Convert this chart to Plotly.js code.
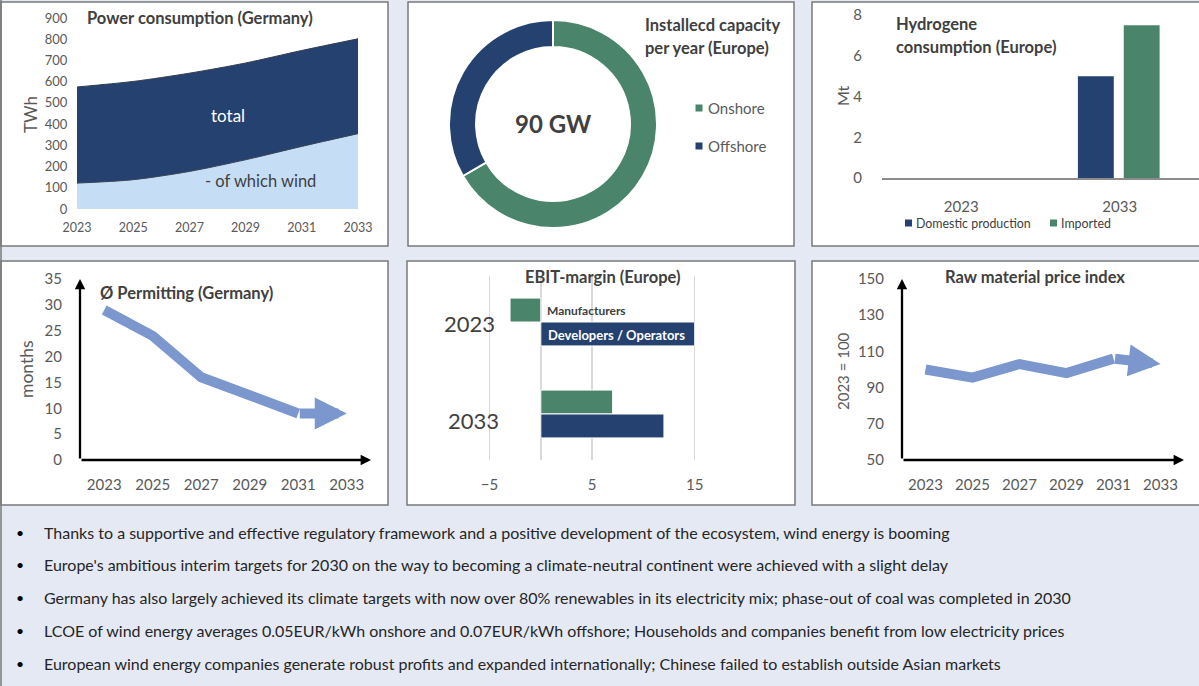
<!DOCTYPE html>
<html><head><meta charset="utf-8">
<script src="https://cdn.plot.ly/plotly-3.0.1.min.js"></script>
<style>html,body{margin:0;padding:0;background:#e4e9f4;}#chart{width:1199px;height:686px;}</style>
</head><body><div id="chart"></div>
<script>
const W = 1199, H = 686;
const px = x => x / W, py = y => 1 - y / H;

// ---------- DATA ----------
const powerYears = [2023, 2025, 2027, 2029, 2031, 2033];
const powerTotal = [575, 601, 640, 688, 747, 802];
const powerWind = [122, 138, 177, 232, 295, 355];

const capLabels = ['Onshore', 'Offshore'];
const capValues = [60, 30];
const capTotalLabel = '90 GW';

const h2Years = ['2023', '2033'];
const h2Domestic = [0, 5];
const h2Imported = [0, 7.5];
const h2Series = ['Domestic production', 'Imported'];

const permitYears = [2023, 2025, 2027, 2029, 2031, 2033];
const permitMonths = [29, 24, 16, 12.3, 9, 9];

const ebitYears = ['2023', '2033'];
const ebitSeries = ['Manufacturers', 'Developers / Operators'];
const ebitManufacturers = [-3, 7];
const ebitDevelopers = [15, 12];

const rawYears = [2023, 2025, 2027, 2029, 2031, 2033];
const rawIndex = [100, 95.5, 103, 98, 106, 103];
const rawTicks = [50, 70, 90, 110, 130, 150];

const bullets = [
  'Thanks to a supportive and effective regulatory framework and a positive development of the ecosystem, wind energy is booming',
  "Europe's ambitious interim targets for 2030 on the way to becoming a climate-neutral continent were achieved with a slight delay",
  'Germany has also largely achieved its climate targets with now over 80% renewables in its electricity mix; phase-out of coal was completed in 2030',
  'LCOE of wind energy averages 0.05EUR/kWh onshore and 0.07EUR/kWh offshore; Households and companies benefit from low electricity prices',
  'European wind energy companies generate robust profits and expanded internationally; Chinese failed to establish outside Asian markets'
];

// ---------- STYLE ----------
const FONT = 'Lato, "Liberation Sans", sans-serif';
const NAVY = '#25416f', GREEN = '#4a846b', LIGHT = '#c6def5', STEEL = '#7b97cd';
const TICK = '#595959', TXT = '#404040';
const TITLE = 16.5;
const tickF = s => ({family: FONT, size: s, color: TICK});

const traces = [];
// Power consumption
traces.push({type: 'scatter', x: powerYears, y: powerTotal, xaxis: 'x', yaxis: 'y', mode: 'lines',
  fill: 'tozeroy', fillcolor: NAVY, line: {color: '#333d4f', width: 1, shape: 'spline', smoothing: 0.8}, showlegend: false});
traces.push({type: 'scatter', x: powerYears, y: powerWind, xaxis: 'x', yaxis: 'y', mode: 'lines',
  fill: 'tozeroy', fillcolor: LIGHT, line: {color: '#3a4457', width: 1, shape: 'spline', smoothing: 0.8}, showlegend: false});
// Installed capacity donut
traces.push({type: 'pie', labels: capLabels, values: capValues, hole: 0.74, sort: false, direction: 'clockwise',
  rotation: 0, textinfo: 'none', marker: {colors: [GREEN, NAVY], line: {color: '#ffffff', width: 2}},
  domain: {x: [px(449), px(657)], y: [py(228), py(20)]}, showlegend: false});
// Hydrogen
const h2Band = 159;
traces.push({type: 'bar', x: h2Years, y: h2Domestic, xaxis: 'x3', yaxis: 'y3', name: h2Series[0],
  width: 36 / h2Band, offset: -42 / h2Band, marker: {color: NAVY, line: {width: 0}}, showlegend: false});
traces.push({type: 'bar', x: h2Years, y: h2Imported, xaxis: 'x3', yaxis: 'y3', name: h2Series[1],
  width: 36 / h2Band, offset: 4 / h2Band, marker: {color: GREEN, line: {width: 0}}, showlegend: false});
// Permitting
traces.push({type: 'scatter', x: permitYears.slice(0, 5), y: permitMonths.slice(0, 5), xaxis: 'x4', yaxis: 'y4',
  mode: 'lines', line: {color: STEEL, width: 10}, showlegend: false});
// EBIT
const ebW = 0.26;
traces.push({type: 'bar', orientation: 'h', y: ebitYears, x: ebitManufacturers, xaxis: 'x5', yaxis: 'y5', name: ebitSeries[0],
  width: ebW, offset: -ebW, marker: {color: GREEN, line: {color: '#ffffff', width: 1}}, showlegend: false});
traces.push({type: 'bar', orientation: 'h', y: ebitYears, x: ebitDevelopers, xaxis: 'x5', yaxis: 'y5', name: ebitSeries[1],
  width: ebW, offset: 0, marker: {color: NAVY, line: {color: '#ffffff', width: 1}}, showlegend: false});
// Raw material
traces.push({type: 'scatter', x: rawYears.slice(0, 5), y: rawIndex.slice(0, 5), xaxis: 'x6', yaxis: 'y6',
  mode: 'lines', line: {color: STEEL, width: 10}, showlegend: false});

const hidden = {tickcolor: 'rgba(0,0,0,0)', ticks: 'outside', showgrid: false, zeroline: false, showline: false, fixedrange: true};

const layout = {
  width: W, height: H, margin: {l: 0, r: 0, t: 0, b: 0},
  paper_bgcolor: '#e4e9f4', plot_bgcolor: 'rgba(0,0,0,0)',
  font: {family: FONT, color: TICK},
  showlegend: false, hovermode: false, barmode: 'overlay',
  xaxis: Object.assign({}, hidden, {domain: [px(77), px(358)], anchor: 'y', range: [2023, 2033], tickvals: powerYears,
    ticklen: 7, tickfont: tickF(12.5)}),
  yaxis: Object.assign({}, hidden, {domain: [py(209), py(18)], anchor: 'x', range: [0, 900], dtick: 100,
    ticklen: 6, tickfont: tickF(13)}),
  xaxis3: Object.assign({}, hidden, {domain: [px(882), px(1199)], anchor: 'y3', type: 'category', categoryarray: h2Years,
    range: [-0.5, 1.5], ticklen: 14, tickfont: tickF(15), showline: true, linecolor: '#8c8c8c', linewidth: 1.5}),
  yaxis3: Object.assign({}, hidden, {domain: [py(178), py(15)], anchor: 'x3', range: [0, 8], dtick: 2,
    ticklen: 16, tickfont: tickF(15)}),
  xaxis4: Object.assign({}, hidden, {domain: [px(80), px(371)], anchor: 'y4', range: [2022, 2034], tickvals: permitYears,
    ticklen: 11, tickfont: tickF(15)}),
  yaxis4: Object.assign({}, hidden, {domain: [py(460), py(279)], anchor: 'x4', range: [0, 35], dtick: 5,
    ticklen: 14, tickfont: tickF(15)}),
  xaxis5: Object.assign({}, hidden, {domain: [px(469), px(725.5)], anchor: 'y5', range: [-7, 18], tick0: -5, dtick: 10,
    ticklen: 11, tickfont: tickF(15), showgrid: true, gridcolor: '#d9d9d9', gridwidth: 1.5, zeroline: true,
    zerolinecolor: '#d9d9d9', zerolinewidth: 1.5}),
  yaxis5: Object.assign({}, hidden, {domain: [py(460), py(276)], anchor: 'x5', type: 'category', categoryarray: ebitYears,
    range: [1.5, -0.5], showticklabels: false}),
  xaxis6: Object.assign({}, hidden, {domain: [px(902), px(1184)], anchor: 'y6', range: [2022, 2034], tickvals: rawYears,
    ticklen: 11, tickfont: tickF(15)}),
  yaxis6: Object.assign({}, hidden, {domain: [py(460), py(279)], anchor: 'x6', range: [50, 150], tickvals: rawTicks,
    ticklen: 14, tickfont: tickF(15)}),
  shapes: [], annotations: []
};

// Panels
const panels = [[1, 2, 388, 246], [408, 2, 794, 246], [812, 2, 1210, 246],
                [1, 261, 388, 505], [407, 261, 795, 505], [812, 261, 1210, 505]];
panels.forEach(p => layout.shapes.push({type: 'rect', xref: 'paper', yref: 'paper', layer: 'below',
  x0: px(p[0]), x1: px(p[2]), y0: py(p[3]), y1: py(p[1]), fillcolor: '#ffffff', line: {color: '#7a7a7a', width: 1.5}}));
layout.shapes.push({type: 'line', xref: 'paper', yref: 'paper', layer: 'below', x0: px(1), x1: px(1), y0: 0, y1: 1,
  line: {color: '#7a7a7a', width: 1.5}});

const A = layout.annotations;
const note = (text, x, y, o) => A.push(Object.assign({text: text, xref: 'paper', yref: 'paper', x: px(x), y: py(y),
  showarrow: false, xanchor: 'center', yanchor: 'middle', font: {family: FONT, size: 14, color: TXT}}, o || {}));
const bold = s => '<b>' + s + '</b>';
const tF = {family: FONT, size: TITLE, color: TXT};

// Titles
note(bold('Power consumption (Germany)'), 85, 18, {xanchor: 'left', font: tF});
note(bold('Installecd capacity'), 643, 25, {xanchor: 'left', font: tF});
note(bold('per year (Europe)'), 643, 48, {xanchor: 'left', font: tF});
note(bold('Hydrogene'), 894, 24, {xanchor: 'left', font: tF});
note(bold('consumption (Europe)'), 894, 47, {xanchor: 'left', font: tF});
note(bold('Ø Permitting (Germany)'), 98, 293, {xanchor: 'left', font: tF});
note(bold('EBIT-margin (Europe)'), 603, 277, {font: tF});
note(bold('Raw material price index'), 1035, 277, {font: tF});

// Axis titles
note('TWh', 30, 115, {textangle: -90, font: {family: FONT, size: 17, color: TICK}});
note('Mt', 842, 96, {textangle: -90, font: {family: FONT, size: 16, color: TICK}});
note('months', 27, 369, {textangle: -90, font: {family: FONT, size: 17.5, color: TICK}});
note('2023 = 100', 843, 371, {textangle: -90, font: {family: FONT, size: 15, color: TICK}});

// Power labels
note('total', 228, 115, {font: {family: FONT, size: 17, color: '#ffffff'}});
note('- of which wind', 260, 181, {font: {family: FONT, size: 16.5, color: TXT}});

// Donut center + legend
note(bold(capTotalLabel), 553, 123, {font: {family: FONT, size: 24, color: TXT}});
const capColors = [GREEN, NAVY];
capLabels.forEach((l, i) => {
  const yy = 108 + i * 38;
  layout.shapes.push({type: 'rect', xref: 'paper', yref: 'paper', x0: px(695.5), x1: px(702.5), y0: py(yy + 3.5), y1: py(yy - 3.5),
    fillcolor: capColors[i], line: {width: 0}});
  note(l, 706, yy, {xanchor: 'left', font: {family: FONT, size: 15, color: TICK}});
});

// Hydrogen legend
const h2Colors = [NAVY, GREEN];
const h2LegX = [905, 1050];
h2Series.forEach((s, i) => {
  layout.shapes.push({type: 'rect', xref: 'paper', yref: 'paper', x0: px(h2LegX[i]), x1: px(h2LegX[i] + 7), y0: py(226.5), y1: py(219.5),
    fillcolor: h2Colors[i], line: {width: 0}});
  note(s, h2LegX[i] + 9, 223, {xanchor: 'left', font: {family: FONT, size: 12.4, color: TXT}});
});

// EBIT category labels and series labels (category index positions)
ebitYears.forEach((c, i) => {
  A.push({text: c, xref: 'paper', yref: 'y5', x: px(i === 0 ? 497 : 501), y: i, yshift: i === 0 ? -1 : -6, showarrow: false,
    xanchor: 'right', yanchor: 'middle', font: {family: FONT, size: 22, color: TXT}});
});
A.push({text: bold(ebitSeries[0]), xref: 'x5', yref: 'y5', x: 0, y: 0, xshift: 4, yshift: 12, showarrow: false,
  xanchor: 'left', yanchor: 'middle', font: {family: FONT, size: 12, color: TXT}});
A.push({text: bold(ebitSeries[1]), xref: 'x5', yref: 'y5', x: 0, y: 0, xshift: 5, yshift: -13, showarrow: false,
  xanchor: 'left', yanchor: 'middle', font: {family: FONT, size: 13, color: '#ffffff'}});

// Arrowed trend lines and black axes
function trendArrow(xa, ya, xs, ys) {
  const n = xs.length;
  A.push({text: '', xref: xa, yref: ya, axref: xa, ayref: ya, x: xs[n - 1], y: ys[n - 1],
    ax: xs[n - 2], ay: ys[n - 2], showarrow: true, arrowhead: 2, arrowsize: 0.64, arrowwidth: 10, arrowcolor: STEEL});
}
function blackAxes(xa, ya, xr, yr) {
  A.push({text: '', xref: xa, yref: ya, axref: xa, ayref: ya, x: xr[1], y: yr[0], ax: xr[0], ay: yr[0],
    showarrow: true, arrowhead: 2, arrowsize: 0.9, arrowwidth: 2.3, arrowcolor: '#000000'});
  A.push({text: '', xref: xa, yref: ya, axref: xa, ayref: ya, x: xr[0], y: yr[1], ax: xr[0], ay: yr[0],
    showarrow: true, arrowhead: 2, arrowsize: 0.9, arrowwidth: 2.3, arrowcolor: '#000000'});
}
trendArrow('x4', 'y4', permitYears, permitMonths);
trendArrow('x6', 'y6', rawYears, rawIndex);
blackAxes('x4', 'y4', [2022, 2034], [0, 35]);
blackAxes('x6', 'y6', [2022, 2034], [50, 150]);

// Bullets
bullets.forEach((b, i) => {
  const yy = 532 + i * 32.8;
  note('•', 20, yy, {font: {family: FONT, size: 14, color: '#000000'}});
  note(b, 42, yy, {xanchor: 'left', font: {family: FONT, size: 16, color: '#262626'}});
});

Plotly.newPlot('chart', traces, layout, {staticPlot: true, displayModeBar: false});
</script>
</body></html>
